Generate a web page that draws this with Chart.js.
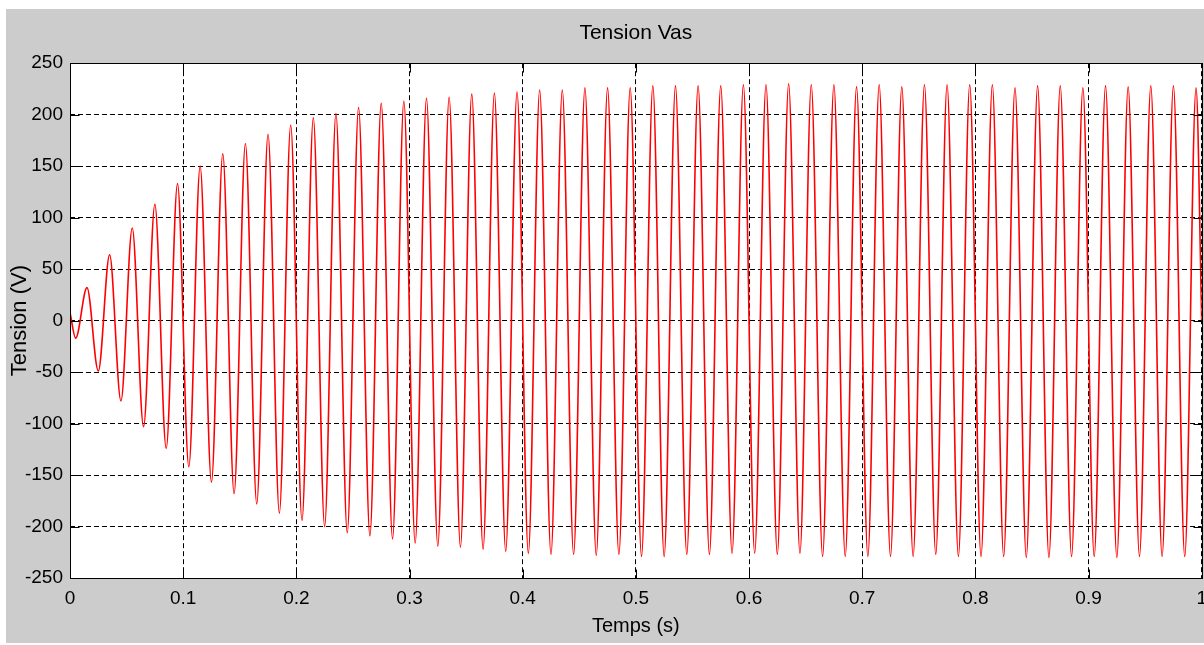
<!DOCTYPE html>
<html lang="fr">
<head>
<meta charset="utf-8">
<title>Tension Vas</title>
<script src="https://cdn.jsdelivr.net/npm/chart.js@4.4.1/dist/chart.umd.min.js"></script>
<style>
  html, body { margin: 0; padding: 0; background: #fff; overflow: hidden; width: 1204px; height: 645px; }
  #fond { position: absolute; left: 6px; top: 9px; width: 1210px; height: 634px; background: #cccccc; }
  #chartVas { position: absolute; left: 0; top: 0; }
</style>
</head>
<body>
<div id="fond"></div>
<canvas id="chartVas" width="1216" height="645"></canvas>
<script>
// Tension Vas - relevé de scope (Chart.js)

// Instants des extrema (s)
const tempsS = [
  0, 0.005, 0.015, 0.025, 0.035, 0.045, 0.055, 0.065, 0.075, 0.085, 0.095,
  0.105, 0.115, 0.125, 0.135, 0.145, 0.155, 0.165, 0.175, 0.185, 0.195,
  0.205, 0.215, 0.225, 0.235, 0.245, 0.255, 0.265, 0.275, 0.285, 0.295,
  0.305, 0.315, 0.325, 0.335, 0.345, 0.355, 0.365, 0.375, 0.385, 0.395,
  0.405, 0.415, 0.425, 0.435, 0.445, 0.455, 0.465, 0.475, 0.485, 0.495,
  0.505, 0.515, 0.525, 0.535, 0.545, 0.555, 0.565, 0.575, 0.585, 0.595,
  0.605, 0.615, 0.625, 0.635, 0.645, 0.655, 0.665, 0.675, 0.685, 0.695,
  0.705, 0.715, 0.725, 0.735, 0.745, 0.755, 0.765, 0.775, 0.785, 0.795,
  0.805, 0.815, 0.825, 0.835, 0.845, 0.855, 0.865, 0.875, 0.885, 0.895,
  0.905, 0.915, 0.925, 0.935, 0.945, 0.955, 0.965, 0.975, 0.985, 0.995,
  1
];

// Tension Vas aux mêmes instants (V)
const tensionVas = [
  8, -17, 32, -49, 64, -78, 90, -103, 113, -124, 133,
  -142, 150, -157, 162, -168, 172, -178, 181, -187, 190,
  -194, 197, -200, 201, -206, 207, -209, 211, -212, 213,
  -216, 216, -219, 217, -220, 220, -222, 221, -224, 222,
  -226, 224, -227, 224, -227, 226, -228, 226, -227, 226,
  -229, 228, -229, 228, -227, 228, -227, 228, -226, 229,
  -226, 229, -227, 230, -226, 229, -229, 229, -229, 227,
  -229, 229, -229, 227, -229, 229, -227, 229, -229, 229,
  -229, 229, -229, 226, -230, 228, -230, 228, -229, 226,
  -229, 228, -230, 227, -229, 228, -229, 228, -229, 226,
  0
];

// Axes
const xTicks = [0, 0.1, 0.2, 0.3, 0.4, 0.5, 0.6, 0.7, 0.8, 0.9, 1];
const yTicks = [-250, -200, -150, -100, -50, 0, 50, 100, 150, 200, 250];

const police = "'Liberation Sans', Arial, sans-serif";

// Fond blanc + cadre noir avec petites graduations internes (style MATLAB)
const cadreMatlab = {
  id: 'cadreMatlab',
  beforeDraw(chart) {
    const { ctx, chartArea: a } = chart;
    ctx.save();
    ctx.fillStyle = '#ffffff';
    ctx.fillRect(a.left, a.top, a.right - a.left, a.bottom - a.top);
    ctx.restore();
  },
  afterDraw(chart) {
    const { ctx, chartArea: a, scales } = chart;
    const L = Math.round(a.left) + 0.5, R = Math.round(a.right) + 0.5;
    const T = Math.round(a.top) + 0.5, B = Math.round(a.bottom) + 0.5;
    ctx.save();
    ctx.strokeStyle = '#000';
    ctx.lineWidth = 1;
    ctx.setLineDash([]);
    ctx.strokeRect(L, T, R - L, B - T);
    ctx.beginPath();
    xTicks.forEach(v => {
      const px = Math.round(scales.x.getPixelForValue(v)) + 0.5;
      ctx.moveTo(px, B); ctx.lineTo(px, B - 9);
      ctx.moveTo(px, T); ctx.lineTo(px, T + 9);
    });
    yTicks.forEach(v => {
      const py = Math.round(scales.y.getPixelForValue(v)) + 0.5;
      ctx.moveTo(L, py); ctx.lineTo(L + 9, py);
      ctx.moveTo(R, py); ctx.lineTo(R - 9, py);
    });
    ctx.stroke();
    ctx.restore();
  }
};

const points = tempsS.map((t, i) => ({ x: t, y: tensionVas[i] }));

new Chart(document.getElementById('chartVas').getContext('2d'), {
  type: 'line',
  data: {
    datasets: [{
      label: 'Vas',
      data: points,
      borderColor: '#ff0000',
      borderWidth: 1.6,
      pointRadius: 0,
      cubicInterpolationMode: 'monotone',
      fill: false
    }]
  },
  options: {
    responsive: false,
    animation: false,
    devicePixelRatio: 1,
    layout: { padding: { left: 0, right: 11, top: 0, bottom: 0 } },
    scales: {
      x: {
        type: 'linear',
        min: 0,
        max: 1,
        afterBuildTicks: s => { s.ticks = xTicks.map(v => ({ value: v })); },
        afterFit: s => { s.height = 67; },
        ticks: {
          autoSkip: false,
          maxRotation: 0,
          padding: 9,
          color: '#000',
          font: { family: police, size: 19 },
          callback: v => String(+v.toFixed(1))
        },
        grid: { color: '#000', lineWidth: 1, drawTicks: false },
        border: { display: false, dash: [5, 3] },
        title: {
          display: true,
          text: 'Temps (s)',
          color: '#000',
          font: { family: police, size: 20 },
          padding: { top: 0, bottom: 7 }
        }
      },
      y: {
        type: 'linear',
        min: -250,
        max: 250,
        afterBuildTicks: s => { s.ticks = yTicks.map(v => ({ value: v })); },
        afterFit: s => { s.width = 70; },
        ticks: {
          autoSkip: false,
          padding: 7,
          color: '#000',
          font: { family: police, size: 19 }
        },
        grid: { color: '#000', lineWidth: 1, drawTicks: false },
        border: { display: false, dash: [5, 3] },
        title: {
          display: true,
          text: 'Tension (V)',
          color: '#000',
          font: { family: police, size: 22 },
          padding: { top: 7, bottom: 0 }
        }
      }
    },
    plugins: {
      legend: { display: false },
      tooltip: { enabled: false },
      title: {
        display: true,
        fullSize: false,
        text: 'Tension Vas',
        color: '#000',
        font: { family: police, size: 21, weight: 'normal' },
        padding: { top: 21, bottom: 17 }
      }
    }
  },
  plugins: [cadreMatlab]
});
</script>
</body>
</html>
